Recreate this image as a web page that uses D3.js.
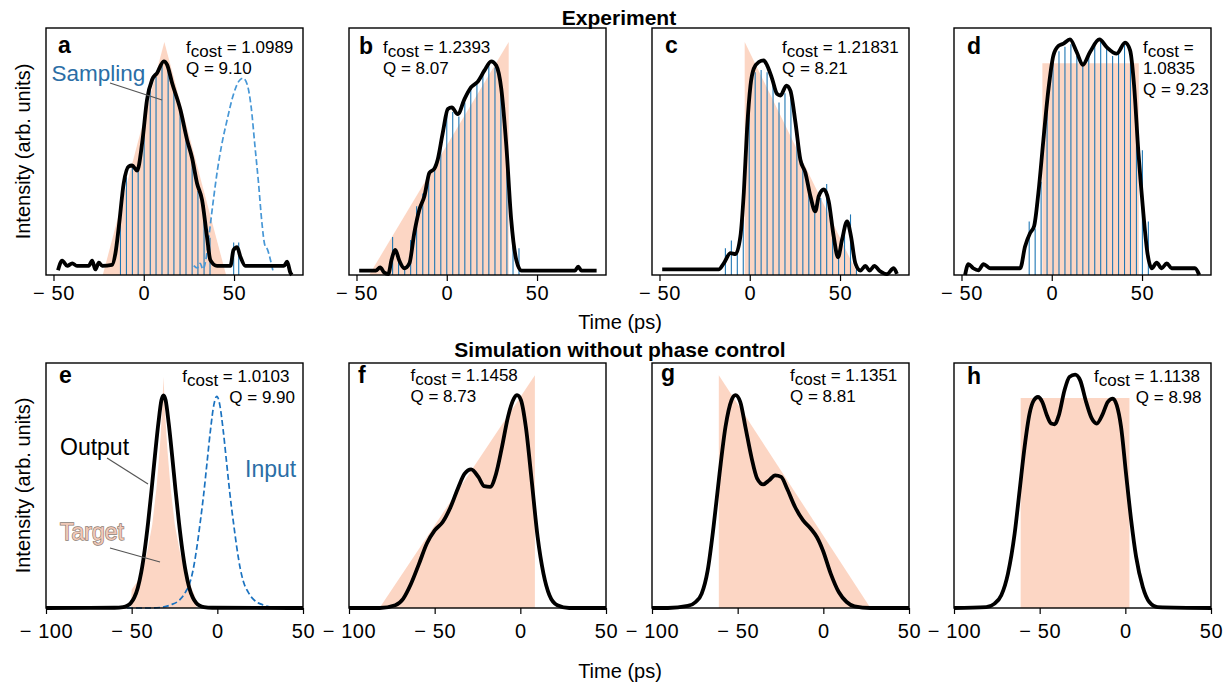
<!DOCTYPE html>
<html><head><meta charset="utf-8">
<script src="https://cdn.jsdelivr.net/npm/d3@7"></script>
<style>
body{margin:0;background:#fff}
svg{display:block}
text{font-family:"Liberation Sans",Arial,sans-serif;fill:#000}
</style>
</head><body>
<svg id="chart" width="1230" height="685"></svg>
<script>
// ---------------- DATA ----------------
const panelLetters = ["a","b","c","d","e","f","g","h"];
const fcostLabels = ["1.0989","1.2393","1.21831","1.0835","1.0103","1.1458","1.1351","1.1138"];
const qLabels = ["9.10","8.07","8.21","9.23","9.90","8.73","8.81","8.98"];
const topTicks = [-50, 0, 50];
const bottomTicks = [-100, -50, 0, 50];

// targets [time ps, intensity]
const targetA = [[-22.7,0],[11.4,1.0],[45.6,0]];
const targetB = [[-43,0],[34.3,1.0],[34.3,0]];
const targetC = [[-2.8,0],[-2.8,1.0],[60,0]];
const targetD = [[-5.2,0],[-5.2,0.909],[48.2,0.909],[48.2,0]];
const targetE = [[-50.5,0],[-50,0.08],[-47,0.11],[-44,0.16],[-41,0.24],[-38,0.36],[-35.5,0.52],[-33.5,0.7],[-32.2,0.86],[-31.4,1.0],[-30.6,0.86],[-29.3,0.7],[-27.3,0.52],[-24.8,0.36],[-21.8,0.24],[-18.8,0.16],[-15.8,0.1],[-13,0.05],[-12,0]];
const targetF = [[-82.2,0],[8.5,1.007],[8.5,0]];
const targetG = [[-61,0],[-61,1.007],[27.5,0]];
const targetH = [[-61.1,0],[-61.1,0.909],[2.4,0.909],[2.4,0]];

// measured / simulated output
const outputA = [[-47.5,0.02],[-45.2,0.062],[-42.4,0.039],[-39.6,0.05],[-37,0.039],[-30.5,0.039],[-28.6,0.062],[-26.8,0.024],[-24.9,0.053],[-23,0.039],[-17.6,0.043],[-15.7,0.093],[-13.8,0.208],[-11.1,0.394],[-8.3,0.466],[-6.5,0.47],[-3.7,0.448],[-0.9,0.566],[1.8,0.752],[4.6,0.838],[7.4,0.867],[11.1,0.917],[12.9,0.903],[15.7,0.824],[20.3,0.709],[24,0.58],[26.8,0.501],[29.5,0.394],[32.3,0.322],[35,0.165],[36.9,0.064],[40.6,0.039],[48,0.039],[49.7,0.107],[51.7,0.119],[53.5,0.079],[56.3,0.039],[77.6,0.039],[79.4,0.057],[81.2,0.01],[82,0]];
const outputB = [[-48.5,0.019],[-39.3,0.019],[-36.9,0.033],[-34.6,0.01],[-32.4,0.004],[-30.6,0.065],[-28.5,0.108],[-26.3,0.062],[-23.5,0.029],[-20.7,0.05],[-18,0.18],[-15.2,0.28],[-12.4,0.338],[-9.6,0.439],[-6.9,0.456],[-5,0.496],[-2.2,0.611],[0.6,0.712],[2.8,0.719],[6.1,0.69],[9.8,0.755],[13.5,0.806],[17.2,0.83],[20.9,0.878],[24.6,0.917],[27.4,0.899],[30.2,0.799],[33,0.554],[35.7,0.237],[38.5,0.065],[41.3,0.019],[71,0.019],[72.8,0.036],[74.6,0.019],[83,0.019]];
const outputC = [[-48.5,0.024],[-17.2,0.024],[-14.4,0.05],[-10.7,0.094],[-7.9,0.09],[-5.2,0.165],[-3.3,0.353],[-1.5,0.626],[0.4,0.813],[2.2,0.885],[5,0.914],[7.7,0.921],[9.6,0.9],[12.4,0.842],[15.1,0.777],[17,0.77],[20.3,0.813],[22.5,0.791],[25.3,0.655],[28,0.496],[30.8,0.439],[33.6,0.338],[36.3,0.273],[38.2,0.338],[41,0.367],[43.7,0.317],[46.5,0.165],[48.9,0.076],[51.1,0.151],[53.9,0.23],[56.1,0.165],[58.5,0.05],[61.3,0.019],[64,0.039],[66.4,0.019],[69,0.039],[72,0.017],[76,0.004],[79.7,0.029],[81.5,0.005]];
const outputD = [[-48,0.0],[-46.2,0.047],[-43.5,0.029],[-40.6,0.02],[-37.8,0.047],[-34.1,0.029],[-17.5,0.029],[-14.8,0.122],[-12,0.18],[-9.8,0.209],[-7.4,0.353],[-4.6,0.583],[-1.8,0.799],[0.9,0.942],[3.7,0.983],[6.5,0.993],[10.1,1.011],[13.8,0.957],[17.2,0.902],[21.2,0.957],[26.4,1.011],[30.4,0.978],[36,0.95],[40.6,0.997],[43.4,0.964],[45.6,0.813],[48,0.525],[50.4,0.295],[53,0.094],[55.4,0.029],[58.1,0.053],[60.9,0.029],[63.7,0.05],[66.4,0.029],[79.3,0.029],[81.7,0.0]];
const outputE = [[-100,0],[-60,0.001],[-55,0.004],[-52.5,0.01],[-50.5,0.022],[-48.5,0.045],[-46.4,0.088],[-44.4,0.155],[-42.4,0.25],[-40.4,0.37],[-38.4,0.51],[-36.4,0.66],[-34.4,0.8],[-32.6,0.9],[-31.4,0.92],[-30.2,0.9],[-28.4,0.8],[-26.4,0.66],[-24.4,0.51],[-22.4,0.37],[-20.4,0.25],[-18.4,0.155],[-16.4,0.088],[-14.3,0.045],[-12.3,0.022],[-10.3,0.01],[-7.8,0.004],[-3,0.001],[50,0]];
const outputF = [[-100,0],[-82,0],[-73,0.012],[-68.4,0.04],[-63.8,0.105],[-59.2,0.19],[-54.5,0.28],[-50,0.336],[-45.3,0.372],[-40.7,0.437],[-36.1,0.524],[-32.6,0.58],[-28.7,0.6],[-24.5,0.567],[-21.1,0.527],[-17.6,0.524],[-14.2,0.58],[-10.7,0.697],[-7.2,0.827],[-3.8,0.906],[-1.9,0.921],[0.4,0.899],[3.2,0.784],[6.6,0.553],[10.1,0.307],[13.5,0.149],[17,0.055],[21.6,0.012],[28.5,0],[50,0]];
const outputG = [[-100,0],[-90.7,0],[-79.1,0.009],[-74.5,0.026],[-71,0.062],[-67.5,0.163],[-64.1,0.35],[-60.6,0.58],[-57.1,0.784],[-53.6,0.899],[-51.3,0.921],[-48.5,0.892],[-45.5,0.784],[-42,0.654],[-38.6,0.56],[-35.1,0.535],[-31.6,0.553],[-28.1,0.574],[-24.6,0.567],[-21.2,0.517],[-16.5,0.437],[-11.9,0.38],[-7.3,0.343],[-3.8,0.307],[-0.3,0.25],[4.3,0.149],[9,0.069],[13.6,0.026],[18.2,0.007],[27.5,0],[50,0]];
const outputH = [[-100,0],[-81.2,0.004],[-76.3,0.019],[-72.4,0.055],[-68.5,0.149],[-64.6,0.322],[-61.7,0.509],[-58.8,0.697],[-55.9,0.841],[-53.6,0.896],[-51,0.913],[-48.5,0.892],[-45.8,0.834],[-43.3,0.798],[-41.3,0.795],[-38.8,0.834],[-35.5,0.942],[-32.6,1.0],[-29.3,1.01],[-26.4,0.986],[-22.9,0.892],[-19.6,0.82],[-16.7,0.798],[-13.5,0.834],[-10.2,0.892],[-7.3,0.906],[-5,0.877],[-2.5,0.784],[0.4,0.582],[3.4,0.38],[6.3,0.221],[10.2,0.091],[14,0.026],[18.9,0.004],[50,0]];

// input pulses (dashed)
const inputA = [[27.7,0.04],[29.6,0.03],[31.2,0.05],[32.8,0.025],[34.5,0.07],[36,0.16],[38.2,0.3],[40.8,0.45],[43.2,0.56],[46,0.66],[49.5,0.77],[52.5,0.83],[55,0.845],[57.2,0.82],[59.5,0.72],[61.5,0.56],[63.5,0.4],[65.5,0.22],[67,0.13],[68.5,0.11],[70,0.07],[71.5,0.02]];
const inputE = [[-100,0],[-38,0],[-32,0.004],[-27,0.014],[-22,0.035],[-18.5,0.07],[-16,0.11],[-14,0.17],[-12,0.26],[-10,0.37],[-8,0.49],[-6,0.63],[-4,0.77],[-2,0.88],[-0.3,0.916],[1.4,0.88],[3.4,0.77],[5.4,0.63],[7.4,0.49],[9.4,0.37],[11.4,0.26],[13.4,0.17],[15.4,0.11],[17.9,0.07],[21.4,0.035],[26.4,0.014],[31.4,0.004],[37,0],[50,0]];

// sampling stems (experiment)
const sampleTimesA = [-12.9,-9.6,-6.3,-3.1,0.2,3.6,6.8,10.1,13.5,16.7,20.1,23.4,26.8,30,33.4,36.7,49.8,52.6];
const sampleValsA  = [0.24,0.42,0.46,0.45,0.62,0.8,0.85,0.9,0.88,0.79,0.7,0.58,0.49,0.36,0.3,0.16,0.14,0.14];
const sampleTimesB = [-30,-26.7,-23.3,-20,-16.7,-13.3,-10,-6.7,-3.3,0,3.3,6.7,10,13.3,16.7,20,23.3,26.7,30,33.3,36.7,40];
const sampleValsB  = [0.163,0.06,0.03,0.15,0.295,0.35,0.43,0.46,0.57,0.69,0.7,0.68,0.74,0.8,0.82,0.87,0.9,0.89,0.8,0.55,0.16,0.115];
const sampleTimesC = [-13.5,-10.2,-6.9,-3.6,-0.3,3,6.3,9.6,12.9,16.2,19.5,22.8,26.1,29.4,32.7,36,39.3,42.6,45.9,49.2,52.5,55.8,59.1];
const sampleValsC  = [0.115,0.148,0.1,0.3,0.75,0.87,0.88,0.87,0.82,0.74,0.78,0.76,0.6,0.48,0.35,0.28,0.33,0.39,0.2,0.1,0.2,0.26,0.04];
const sampleTimesD = [-12.5,-9.2,-5.9,-2.6,0.7,4,7.3,10.6,13.9,17.2,20.5,23.8,27.1,30.4,33.7,37,40.3,43.6,46.9,50.2,53.5];
const sampleValsD  = [0.23,0.2,0.4,0.7,0.92,0.96,0.98,0.99,0.94,0.9,0.94,0.99,1.0,0.97,0.94,0.96,0.99,0.96,0.65,0.535,0.23];

// ---------------- LAYOUT ----------------
const PINK = "#fcd6c4", BLUE = "#1f77b4", LABELBLUE = "#2b6ea6";
const W = 257;
const colX = [46, 349, 652, 954];
const rowY = [{top:28, bottom:275, tickText:24.5}, {top:363, bottom:608, tickText:30}];
const topDomain = [-54.15, 88.2], botDomain = [-100, 50];

const panels = [
  {row:0,col:0,target:targetA,output:outputA,input:inputA,inputColor:"#4797d6",st:sampleTimesA,sv:sampleValsA},
  {row:0,col:1,target:targetB,output:outputB,st:sampleTimesB,sv:sampleValsB},
  {row:0,col:2,target:targetC,output:outputC,st:sampleTimesC,sv:sampleValsC},
  {row:0,col:3,target:targetD,output:outputD,st:sampleTimesD,sv:sampleValsD},
  {row:1,col:0,target:targetE,output:outputE,input:inputE,inputColor:"#1a72c0"},
  {row:1,col:1,target:targetF,output:outputF},
  {row:1,col:2,target:targetG,output:outputG},
  {row:1,col:3,target:targetH,output:outputH},
];

const svg = d3.select("#chart");
const fmt = v => v < 0 ? "\u2212 " + Math.abs(v) : String(v);

panels.forEach((p, i) => {
  const r = rowY[p.row];
  const x0 = colX[p.col];
  const x = d3.scaleLinear().domain(p.row === 0 ? topDomain : botDomain).range([x0, x0 + W]);
  const y = d3.scaleLinear().domain([0, 1.06]).range([r.bottom, r.top]);
  const g = svg.append("g");

  g.append("path").datum(p.target)
    .attr("d", d3.area().x(d => x(d[0])).y0(y(0)).y1(d => y(d[1])))
    .attr("fill", PINK);

  if (p.st) {
    g.selectAll(null).data(d3.zip(p.st, p.sv)).join("line")
      .attr("x1", d => x(d[0])).attr("x2", d => x(d[0]))
      .attr("y1", y(0)).attr("y2", d => y(d[1]))
      .attr("stroke", BLUE).attr("stroke-width", 1.1);
  }
  if (p.input) {
    g.append("path").datum(p.input)
      .attr("d", d3.line().x(d => x(d[0])).y(d => y(d[1])).curve(d3.curveMonotoneX))
      .attr("fill", "none").attr("stroke", p.inputColor).attr("stroke-width", 1.7)
      .attr("stroke-dasharray", "6,3");
  }
  g.append("path").datum(p.output)
    .attr("d", d3.line().x(d => x(d[0])).y(d => y(d[1])).curve(d3.curveMonotoneX))
    .attr("fill", "none").attr("stroke", "#000").attr("stroke-width", 3.8)
    .attr("stroke-linejoin", "round");

  g.append("rect").attr("x", x0).attr("y", r.top).attr("width", W).attr("height", r.bottom - r.top)
    .attr("fill", "none").attr("stroke", "#000").attr("stroke-width", 1.4);

  const axis = d3.axisBottom(x).tickValues(p.row === 0 ? topTicks : bottomTicks).tickSize(6).tickFormat(fmt);
  const ag = svg.append("g").attr("transform", `translate(0,${r.bottom})`).call(axis);
  ag.select(".domain").remove();
  ag.selectAll(".tick line").attr("stroke", "#000").attr("stroke-width", 1.2);
  ag.selectAll(".tick text").attr("y", r.tickText).attr("dy", 0)
    .attr("font-size", 20).attr("letter-spacing", 0.6)
    .attr("font-family", "'Liberation Sans', Arial, sans-serif").attr("fill", "#000");
});

// ---------------- TEXT ----------------
function txt(x, y, s, opts = {}) {
  const t = svg.append("text").attr("x", x).attr("y", y).text(s)
    .attr("font-size", opts.size || 17)
    .attr("text-anchor", opts.anchor || "start");
  if (opts.bold) t.attr("font-weight", "bold");
  if (opts.fill) t.style("fill", opts.fill);
  return t;
}
function fcost(x, y, val, anchor) {
  const t = svg.append("text").attr("x", x).attr("y", y).attr("font-size", 17)
    .attr("text-anchor", anchor || "start");
  t.append("tspan").text("f");
  t.append("tspan").attr("dy", 4).text("cost");
  t.append("tspan").attr("dy", -4).text(val === null ? " =" : " = " + val);
  return t;
}

// titles & axis labels
txt(619, 25, "Experiment", {size:21, bold:true, anchor:"middle"});
txt(620, 357, "Simulation without phase control", {size:21, bold:true, anchor:"middle"});
txt(620, 329, "Time (ps)", {size:20, anchor:"middle"});
txt(620, 678, "Time (ps)", {size:20, anchor:"middle"});
[151.5, 485.5].forEach(cy => {
  svg.append("text").attr("transform", `translate(29.5,${cy}) rotate(-90)`)
    .attr("text-anchor", "middle").attr("font-size", 20).text("Intensity (arb. units)");
});

// panel letters
const letterPos = [[58,53],[359,54],[665,53],[967,54],[59,383],[358,383],[661,381],[967,384]];
letterPos.forEach((pos, i) => txt(pos[0], pos[1], panelLetters[i], {size:23, bold:true}));

// fcost / Q annotations
fcost(186, 52.5, fcostLabels[0]); txt(186, 73.5, "Q = " + qLabels[0]);
fcost(383, 52.5, fcostLabels[1]); txt(383, 73.5, "Q = " + qLabels[1]);
fcost(782, 52.5, fcostLabels[2]); txt(782, 73.5, "Q = " + qLabels[2]);
fcost(1143, 53, null); txt(1143, 74, fcostLabels[3]); txt(1143, 95, "Q = " + qLabels[3]);
fcost(289.5, 382, fcostLabels[4], "end"); txt(295, 402.5, "Q = " + qLabels[4], {anchor:"end"});
fcost(410.5, 381, fcostLabels[5]); txt(410.5, 402, "Q = " + qLabels[5]);
fcost(790, 381, fcostLabels[6]); txt(790, 402, "Q = " + qLabels[6]);
fcost(1200, 382, fcostLabels[7], "end"); txt(1201.5, 402.5, "Q = " + qLabels[7], {anchor:"end"});

// annotation labels with leader lines
function leader(x1, y1, x2, y2) {
  svg.append("line").attr("x1", x1).attr("y1", y1).attr("x2", x2).attr("y2", y2)
    .attr("stroke", "#555").attr("stroke-width", 1.2);
}
leader(110, 83, 162, 100);
txt(51.5, 81, "Sampling", {size:22.5, fill:LABELBLUE});
leader(107, 458, 148, 484);
txt(60, 455, "Output", {size:23});
leader(110, 548, 160, 562);
txt(60, 540, "Target", {size:23, fill:"#f0c8b6"})
  .attr("stroke", "#8c7b72").attr("stroke-width", 1.3).attr("paint-order", "stroke");
txt(245, 477, "Input", {size:23, fill:LABELBLUE});
</script>
</body></html>
